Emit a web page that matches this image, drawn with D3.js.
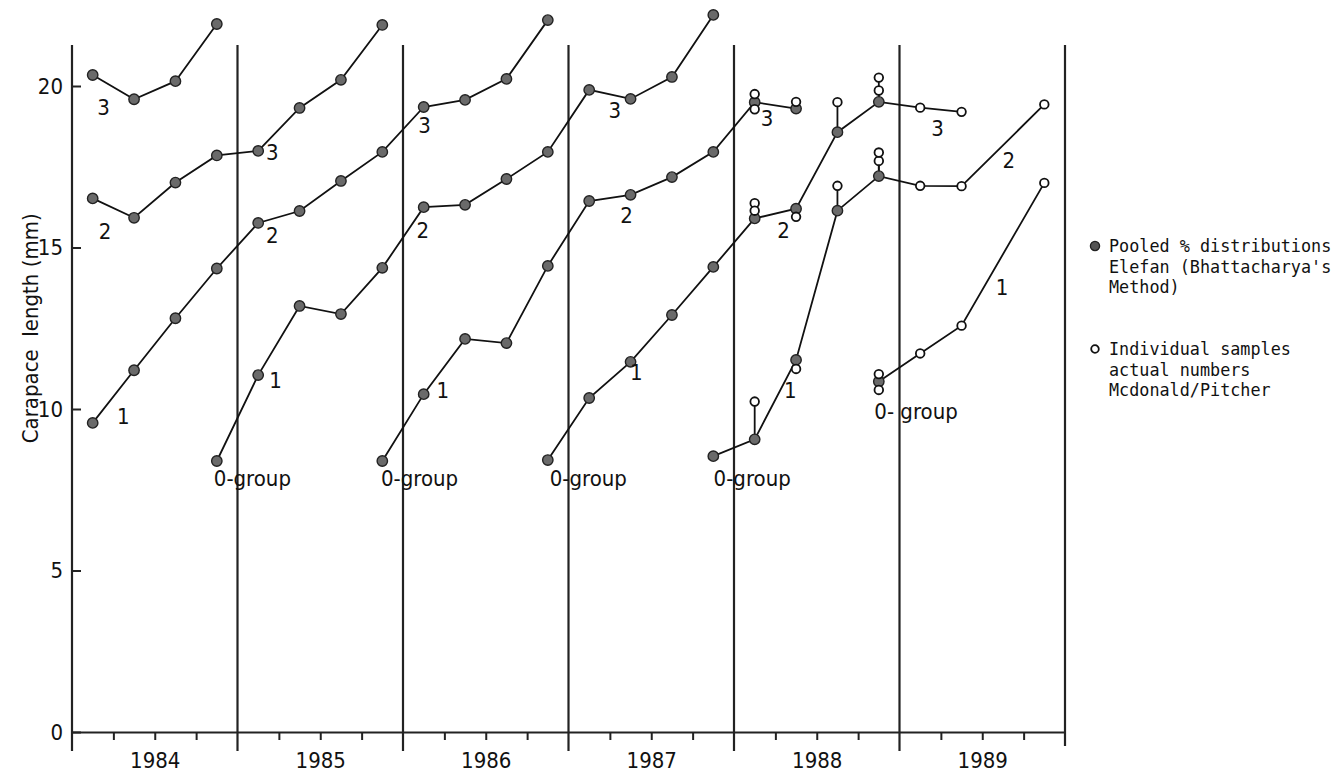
<!DOCTYPE html>
<html>
<head>
<meta charset="utf-8">
<script src="https://cdn.jsdelivr.net/npm/d3@7"></script>
<style>
  body { margin: 0; background: #fff; }
  svg { display: block; }
  .lbl { font-family: "DejaVu Sans Condensed", "DejaVu Sans", sans-serif; font-size: 22px; fill: #111; }
  .leg { font-family: "DejaVu Sans Mono", monospace; font-size: 16.8px; fill: #111; white-space: pre; }
</style>
</head>
<body>
<div id="chart"></div>
<script>
// quarter index 0 = first quarter of 1984, points sit mid-quarter
var cohortStart = [0, 0, 0, 3, 7, 11, 15, 19];
var c1981 = [20.34, 19.59, 20.15, 21.92];
var c1982 = [16.52, 15.92, 17.01, 17.85, 17.99, 19.32, 20.19, 21.89];
var c1983 = [9.57, 11.2, 12.81, 14.35, 15.76, 16.13, 17.06, 17.96, 19.35, 19.57, 20.22, 22.04];
var c1984 = [8.39, 11.05, 13.19, 12.94, 14.37, 16.25, 16.32, 17.12, 17.96, 19.88, 19.6, 20.28, 22.2];
var c1985 = [8.39, 10.46, 12.17, 12.04, 14.43, 16.44, 16.63, 17.18, 17.96, 19.5, 19.3];
var c1986 = [8.42, 10.34, 11.46, 12.91, 14.4, 15.9, 16.2, 18.57, 19.51];
var c1987 = [8.54, 9.06, 11.52, 16.14, 17.21];
var c1988 = [10.85];
var pooled = [c1981, c1982, c1983, c1984, c1985, c1986, c1987, c1988];

// individual samples (open circles): [quarter, value]
var s1985 = [[16, 19.75], [16, 19.28], [17, 19.51]];
var s1986 = [[16, 16.37], [16, 16.14], [17, 15.95], [18, 19.5], [19, 19.86], [19, 20.26], [20, 19.33], [21, 19.2]];
var s1987 = [[16, 10.23], [17, 11.24], [18, 16.91], [19, 17.68], [19, 17.94], [20, 16.91], [21, 16.9], [23, 19.43]];
var s1988 = [[19, 11.08], [19, 10.59], [20, 11.72], [21, 12.58], [23, 17.0]];
var samples = [[], [], [], [], s1985, s1986, s1987, s1988];

var years = [1984, 1985, 1986, 1987, 1988, 1989];
var yTicks = [0, 5, 10, 15, 20];

// age labels: [text, time, length]
var ageLabels = [
  ["3", 1984.19, 19.35], ["2", 1984.2, 15.5], ["1", 1984.31, 9.77],
  ["3", 1985.21, 17.96], ["2", 1985.21, 15.39], ["1", 1985.23, 10.9],
  ["3", 1986.13, 18.79], ["2", 1986.12, 15.54], ["1", 1986.24, 10.59],
  ["3", 1987.28, 19.26], ["2", 1987.35, 16.0], ["1", 1987.41, 11.15],
  ["3", 1988.2, 19.0], ["2", 1988.3, 15.54], ["1", 1988.34, 10.59],
  ["3", 1989.23, 18.7], ["2", 1989.66, 17.71], ["1", 1989.62, 13.78]
];
var groupLabels = [
  ["0-group", 1985.09, 7.86], ["0-group", 1986.1, 7.86], ["0-group", 1987.12, 7.86],
  ["0-group", 1988.11, 7.86], ["0- group", 1989.1, 9.94]
];

var width = 1344, height = 779;
var svg = d3.select("#chart").append("svg").attr("width", width).attr("height", height);

var x = d3.scaleLinear().domain([1984, 1990]).range([72, 1065]);
var y = d3.scaleLinear().domain([0, 20]).range([732, 86]);
var qt = function(q) { return 1984 + (q + 0.5) / 4; };

// year divider lines (first one is the y axis)
svg.append("g").selectAll("line")
  .data(years.concat([1990]))
  .join("line")
  .attr("x1", d => x(d)).attr("x2", d => x(d))
  .attr("y1", 45).attr("y2", d => d == 1990 ? 746 : 751)
  .attr("stroke", "#222").attr("stroke-width", 2.2);

// x axis, quarter ticks
var quarterTicks = [];
years.forEach(function(yr) { quarterTicks.push(yr + 0.25, yr + 0.5, yr + 0.75); });
var gx = svg.append("g").attr("transform", "translate(0," + y(0) + ")")
  .call(d3.axisBottom(x).tickValues(quarterTicks).tickSize(8).tickSizeOuter(0).tickFormat(""));
gx.select(".domain").attr("stroke", "#222").attr("stroke-width", 2.2);
gx.selectAll(".tick line").attr("stroke", "#222").attr("stroke-width", 2);

var gyr = svg.append("g").attr("transform", "translate(0," + y(0) + ")")
  .call(d3.axisBottom(x).tickValues(years.map(d => d + 0.5)).tickSize(0).tickPadding(20).tickFormat(d => Math.floor(d)));
gyr.select(".domain").remove();
gyr.selectAll("text").attr("class", "lbl").attr("font-size", null).attr("font-family", null);

// y axis
var gy = svg.append("g").attr("transform", "translate(" + x(1984) + ",0)")
  .call(d3.axisLeft(y).tickValues(yTicks).tickSize(-9).tickPadding(9));
gy.select(".domain").remove();
gy.selectAll(".tick line").attr("stroke", "#222").attr("stroke-width", 2);
gy.selectAll("text").attr("class", "lbl").attr("font-size", null).attr("font-family", null);

svg.append("text").attr("class", "lbl")
  .attr("transform", "translate(30," + y(12.5) + ") rotate(-90)")
  .attr("text-anchor", "middle").attr("dy", "0.35em")
  .style("white-space", "pre")
  .text("Carapace  length (mm)");

// cohort lines: pooled points, then the single samples after pooled data stop
var line = d3.line().x(d => x(qt(d[0]))).y(d => y(d[1]));
pooled.forEach(function(vals, i) {
  var pts = vals.map((v, k) => [cohortStart[i] + k, v]);
  var lastQ = pts[pts.length - 1][0];
  var byQ = d3.group(samples[i].filter(s => s[0] > lastQ), s => s[0]);
  Array.from(byQ.keys()).sort((a, b) => a - b).forEach(function(q) {
    pts.push([q, d3.mean(byQ.get(q), s => s[1])]);
  });
  svg.append("path").datum(pts)
    .attr("d", line).attr("fill", "none").attr("stroke", "#111").attr("stroke-width", 1.8);

  // stems joining pooled estimate to the individual samples of the same quarter
  samples[i].forEach(function(s) {
    var k = s[0] - cohortStart[i];
    if (k >= 0 && k < vals.length) {
      svg.append("line")
        .attr("x1", x(qt(s[0]))).attr("x2", x(qt(s[0])))
        .attr("y1", y(vals[k])).attr("y2", y(s[1]))
        .attr("stroke", "#111").attr("stroke-width", 1.8);
    }
  });
});

pooled.forEach(function(vals, i) {
  svg.append("g").selectAll("circle")
    .data(vals.map((v, k) => [cohortStart[i] + k, v]))
    .join("circle")
    .attr("cx", d => x(qt(d[0]))).attr("cy", d => y(d[1])).attr("r", 5.2)
    .attr("fill", "#6a6a6a").attr("stroke", "#222").attr("stroke-width", 1.4);
});
samples.forEach(function(ss) {
  svg.append("g").selectAll("circle")
    .data(ss)
    .join("circle")
    .attr("cx", d => x(qt(d[0]))).attr("cy", d => y(d[1])).attr("r", 4.3)
    .attr("fill", "#fff").attr("stroke", "#111").attr("stroke-width", 1.8);
});

svg.append("g").selectAll("text")
  .data(ageLabels.concat(groupLabels))
  .join("text").attr("class", "lbl")
  .attr("x", d => x(d[1])).attr("y", d => y(d[2]))
  .attr("text-anchor", "middle").attr("dy", "0.36em")
  .style("white-space", "pre")
  .text(d => d[0]);

// legend
var legend = svg.append("g").attr("transform", "translate(1095,246)");
legend.append("circle").attr("r", 4.6).attr("fill", "#555").attr("stroke", "#222").attr("stroke-width", 1.3);
legend.append("circle").attr("cy", 103).attr("r", 3.8).attr("fill", "#fff").attr("stroke", "#111").attr("stroke-width", 1.8);
var legLines = [["Pooled % distributions", 0], ["Elefan (Bhattacharya's", 20.7], ["Method)", 41.4],
  ["Individual samples", 103], ["actual numbers", 123.7], ["Mcdonald/Pitcher", 144.4]];
legend.selectAll("text.leg").data(legLines).join("text").attr("class", "leg")
  .attr("x", 14).attr("y", d => d[1]).attr("dy", "0.35em").text(d => d[0]);
</script>
</body>
</html>
